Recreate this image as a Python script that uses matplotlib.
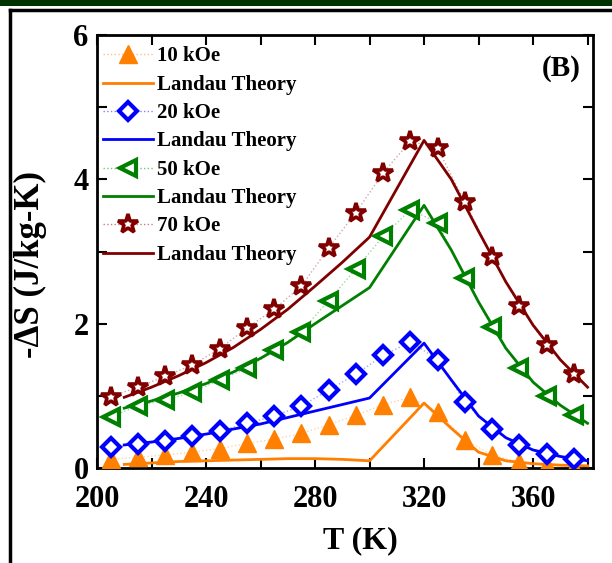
import matplotlib
matplotlib.use("Agg")
import matplotlib.pyplot as plt
from matplotlib.lines import Line2D
from matplotlib.ticker import MultipleLocator

# Measured temperatures (K)
T_exp = [205, 215, 225, 235, 245, 255, 265, 275, 285, 295,
         305, 315, 325, 335, 345, 355, 365, 375]

# Measured -ΔS (J/kg-K)
ds_10 = [0.12, 0.15, 0.18, 0.22, 0.27, 0.34, 0.40, 0.48, 0.60, 0.73,
         0.88, 0.98, 0.78, 0.39, 0.18, 0.08, 0.04, 0.02]
ds_20 = [0.29, 0.33, 0.37, 0.44, 0.51, 0.62, 0.72, 0.86, 1.08, 1.30,
         1.56, 1.75, 1.50, 0.91, 0.54, 0.32, 0.19, 0.12]
ds_50 = [0.71, 0.86, 0.94, 1.05, 1.22, 1.38, 1.63, 1.89, 2.32, 2.76,
         3.21, 3.58, 3.40, 2.64, 1.95, 1.39, 1.00, 0.74]
ds_70 = [0.99, 1.12, 1.27, 1.43, 1.65, 1.94, 2.20, 2.52, 3.05, 3.54,
         4.09, 4.53, 4.43, 3.68, 2.93, 2.24, 1.70, 1.30]

# Landau theory curves
T_th = [210, 220, 230, 240, 250, 260, 270, 280, 290, 300,
        320, 330, 340, 350, 360, 370, 380]
th_10 = [0.05, 0.07, 0.09, 0.10, 0.11, 0.12, 0.13, 0.13, 0.12, 0.10,
         0.90, 0.55, 0.22, 0.10, 0.06, 0.04, 0.03]
th_20 = [0.32, 0.36, 0.41, 0.47, 0.54, 0.61, 0.70, 0.79, 0.88, 0.97,
         1.73, 1.22, 0.72, 0.42, 0.25, 0.16, 0.10]
th_50 = [0.83, 0.93, 1.04, 1.17, 1.33, 1.52, 1.74, 2.00, 2.25, 2.50,
         3.64, 3.02, 2.30, 1.66, 1.19, 0.87, 0.62]
th_70 = [0.98, 1.12, 1.28, 1.46, 1.67, 1.92, 2.20, 2.52, 2.85, 3.20,
         4.54, 4.00, 3.28, 2.58, 1.98, 1.50, 1.12]

labels = ["10 kOe", "20 kOe", "50 kOe", "70 kOe"]
theory_label = "Landau Theory"

plt.rcParams["font.family"] = ["Liberation Serif", "DejaVu Serif"]
plt.rcParams["font.weight"] = "bold"

fig = plt.figure(figsize=(6.12, 5.63), dpi=100)
ax = fig.add_axes([0.1585, 0.1687, 0.8105, 0.7691])

orange, blue, green, dred = "#FF7F00", "#0000FF", "#008000", "#800000"

styles = [
    dict(marker="^", color=orange, mfc=orange, mec=orange, ms=13, mew=1),
    dict(marker="D", color=blue, mfc="white", mec=blue, ms=9.5, mew=3),
    dict(marker="<", color=green, mfc="white", mec=green, ms=12, mew=3),
    dict(marker="*", color=dred, mfc="white", mec=dred, ms=15, mew=2.6),
]
series = [(ds_10, th_10), (ds_20, th_20), (ds_50, th_50), (ds_70, th_70)]

handles, names = [], []
for (ds, th), st, lab in zip(series, styles, labels):
    c = st["color"]
    ax.plot(T_exp, ds, linestyle=":", color=c, alpha=0.35, lw=1.0, zorder=2)
    ax.plot(T_exp, ds, linestyle="none", marker=st["marker"], ms=st["ms"],
            mfc=st["mfc"], mec=st["mec"], mew=st["mew"], zorder=4)
    ax.plot(T_th, th, color=c, lw=2.0, zorder=3)
    handles.append((Line2D([], [], linestyle=":", color=c, lw=1.0, alpha=0.5),
                    Line2D([], [], linestyle="none", marker=st["marker"],
                           ms=st["ms"], mfc=st["mfc"], mec=st["mec"],
                           mew=st["mew"])))
    names.append(lab)
    handles.append(Line2D([], [], color=c, lw=2.0))
    names.append(theory_label)

ax.legend(handles, names, loc="upper left", frameon=False,
          bbox_to_anchor=(-0.012, 1.0),
          handlelength=2.4, handletextpad=0.2,
          labelspacing=0.4, borderaxespad=0.35, borderpad=0.2,
          prop=dict(family="Liberation Serif", weight="bold", size=15))

ax.set_xlim(200, 382)
ax.set_ylim(0, 6)
ax.xaxis.set_major_locator(MultipleLocator(40))
ax.xaxis.set_minor_locator(MultipleLocator(20))
ax.yaxis.set_major_locator(MultipleLocator(2))
ax.yaxis.set_minor_locator(MultipleLocator(1))
ax.tick_params(which="both", direction="in", top=True, right=True,
               length=7, width=1.5)
ax.tick_params(axis="both", labelsize=22)
ax.tick_params(axis="x", pad=12)
ax.tick_params(axis="y", pad=6)
for lbl in ax.get_xticklabels() + ax.get_yticklabels():
    lbl.set_fontweight("bold")
for sp in ax.spines.values():
    sp.set_linewidth(2)

ax.set_xlabel("T (K)", fontsize=23, fontweight="bold")
ax.xaxis.set_label_coords(0.53, -0.135)
ax.set_ylabel("-ΔS (J/kg-K)", fontsize=25, fontweight="bold")
ax.yaxis.set_label_coords(-0.10, 0.47)
ax.text(0.975, 0.955, "(B)", transform=ax.transAxes, ha="right", va="top",
        fontsize=21, fontweight="bold")

# Outer frame and top band
fig.add_artist(plt.Rectangle((0, 1 - 6 / 563), 1, 6 / 563,
                             transform=fig.transFigure, color="#003300",
                             lw=0))
fig.add_artist(Line2D([10 / 612, 1], [1 - 10 / 563, 1 - 10 / 563],
                      transform=fig.transFigure, color="black", lw=2.5))
fig.add_artist(Line2D([10 / 612, 10 / 612], [0, 1 - 10 / 563],
                      transform=fig.transFigure, color="black", lw=2.5))

fig.savefig("out.png", dpi=100)
